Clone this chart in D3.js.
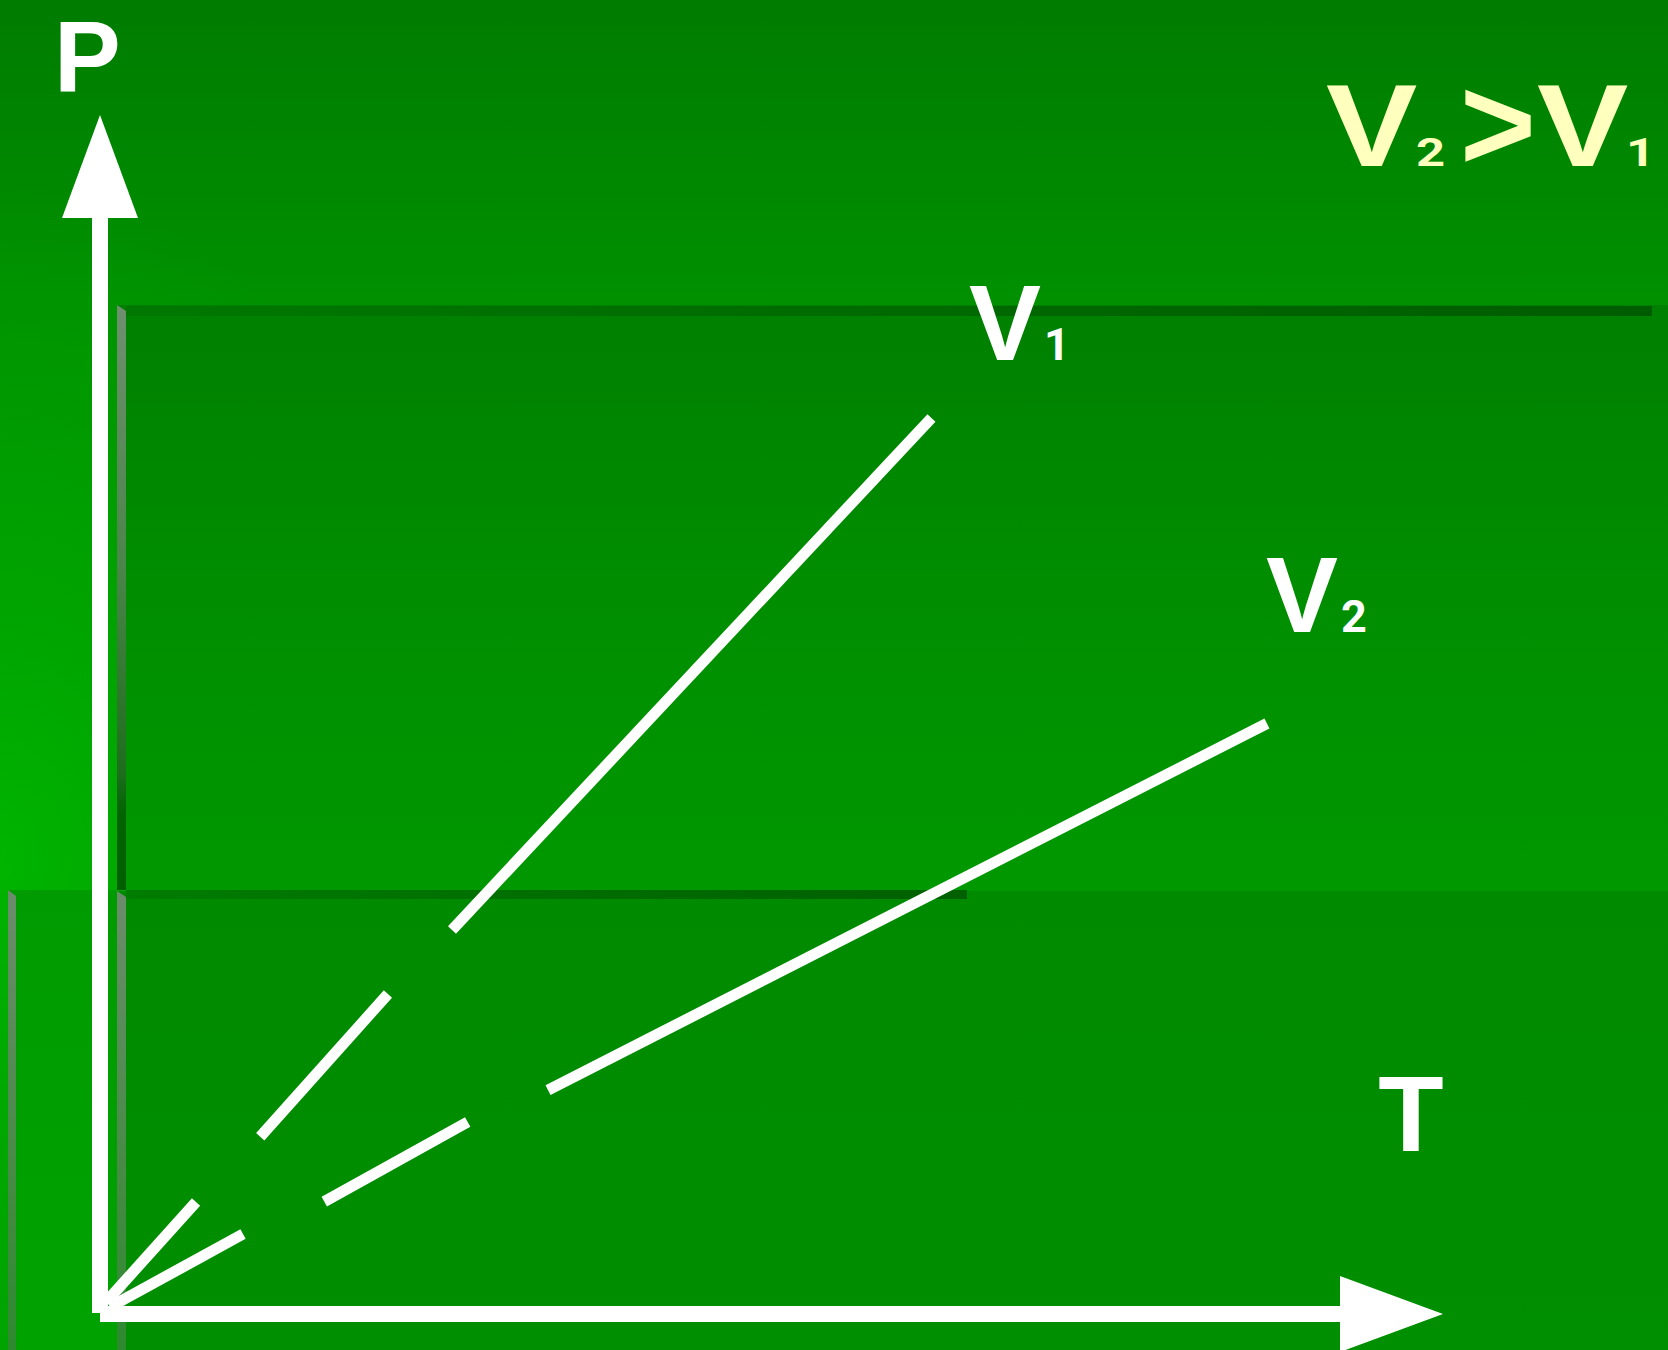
<!DOCTYPE html>
<html lang="en">
<head>
<meta charset="UTF-8" />
<title>P-T isochores</title>
<style>
  html, body { margin: 0; padding: 0; background: #008800; }
  svg { display: block; }
</style>
</head>
<body>
<div id="chart"></div>
<script src="https://d3js.org/d3.v7.min.js"></script>
<script>
// isochores drawn as broken lines: each segment is [[T, P], [T, P]]
var v1Segments = [
  [[0.45, 1.00], [7.15, 9.34]],
  [[11.93, 14.78], [21.44, 26.69]],
  [[26.21, 32.03], [61.91, 74.73]]
];
var v2Segments = [
  [[0.74, 0.58], [10.65, 6.67]],
  [[16.70, 9.37], [27.38, 16.01]],
  [[33.36, 18.68], [86.89, 49.25]]
];
var seriesNames = ["1", "2"];
// where the V labels sit, in [T, P]
var seriesLabelAt = [[64.7, 79.57], [86.82, 56.88]];
var axisNames = ["P", "T"];
var tDomain = [0, 100];
var pDomain = [0, 100];

var w = 1668;
var h = 1350;
var font = "'Liberation Sans', Arimo, Arial, Helvetica, sans-serif";
var digitFont = "Roboto, 'Liberation Sans', Arial, sans-serif";

var svg = d3.select("#chart")
            .append("svg")
            .attr("width", w)
            .attr("height", h)
            .attr("font-family", font)
            .attr("font-weight", "bold");

var defs = svg.append("defs");

function vGrad(id, stops, x1, y1, x2, y2) {
  var g = defs.append("linearGradient")
              .attr("id", id)
              .attr("gradientUnits", "userSpaceOnUse")
              .attr("x1", x1).attr("y1", y1)
              .attr("x2", x2).attr("y2", y2);
  stops.forEach(function(s) {
    g.append("stop").attr("offset", s[0]).attr("stop-color", s[1])
     .attr("stop-opacity", s[2] == null ? 1 : s[2]);
  });
}

vGrad("bg", [[0, "#007c00"], [0.22, "#009000"], [0.66, "#009a00"], [1, "#00a000"]], 0, 0, 0, h);
vGrad("boxA", [[0, "#008000"], [0.5, "#008e00"], [1, "#009800"]], 0, 305, 0, 890);
vGrad("boxB", [[0, "#008a00"], [1, "#008f00"]], 0, 890, 0, h);
vGrad("boxBleft", [[0, "#009b00"], [1, "#00a200"]], 0, 890, 0, h);
vGrad("bevelA", [[0, "#6f8f6f"], [0.45, "#4a854a"], [0.8, "#1d6e1d"], [0.87, "#006400"], [1, "#006000"]], 0, 305, 0, 890);
vGrad("bevelB", [[0, "#6c8c6c"], [1, "#2e8a2e"]], 0, 890, 0, h);
vGrad("bandA", [[0, "#007800"], [1, "#005c00"]], 126, 0, 1652, 0);
vGrad("bandB", [[0, "#007c00"], [1, "#006000"]], 126, 0, 967, 0);

var glow = defs.append("radialGradient")
               .attr("id", "glow")
               .attr("gradientUnits", "userSpaceOnUse")
               .attr("cx", 0).attr("cy", 0).attr("r", 1)
               .attr("gradientTransform", "translate(0,860) scale(480,680)");
glow.append("stop").attr("offset", 0).attr("stop-color", "#00c000").attr("stop-opacity", 0.7);
glow.append("stop").attr("offset", 0.35).attr("stop-color", "#00b400").attr("stop-opacity", 0.5);
glow.append("stop").attr("offset", 1).attr("stop-color", "#00b000").attr("stop-opacity", 0);

// slide background and template boxes
svg.append("rect").attr("width", w).attr("height", h).attr("fill", "url(#bg)");
svg.append("rect").attr("width", w).attr("height", h).attr("fill", "url(#glow)");

svg.append("rect").attr("x", 117).attr("y", 305).attr("width", w - 117).attr("height", 585).attr("fill", "url(#boxA)");
svg.append("rect").attr("x", 126).attr("y", 306).attr("width", 1652 - 126).attr("height", 10).attr("fill", "url(#bandA)");
svg.append("path").attr("d", "M117,305 L126,311 L126,890 L117,890 Z").attr("fill", "url(#bevelA)");

svg.append("rect").attr("x", 8).attr("y", 890).attr("width", 109).attr("height", h - 890).attr("fill", "url(#boxBleft)");
svg.append("rect").attr("x", 117).attr("y", 891).attr("width", w - 117).attr("height", h - 891).attr("fill", "url(#boxB)");
svg.append("rect").attr("x", 126).attr("y", 890).attr("width", 967 - 126).attr("height", 9).attr("fill", "url(#bandB)");
svg.append("path").attr("d", "M8,890 L16,896 L16," + h + " L8," + h + " Z").attr("fill", "url(#bevelB)");
svg.append("path").attr("d", "M117,891 L126,897 L126," + h + " L117," + h + " Z").attr("fill", "url(#bevelB)");

// scales
var xScale = d3.scaleLinear().domain(tDomain).range([100, 1443]);
var yScale = d3.scaleLinear().domain(pDomain).range([1314, 115]);

var head = 103, half = 38;

// axes with arrow heads
var x0 = xScale(0), y0 = yScale(0);
var yTop = yScale(pDomain[1]), xEnd = xScale(tDomain[1]);

svg.append("line")
   .attr("x1", x0).attr("y1", yTop + head)
   .attr("x2", x0).attr("y2", y0 - 1)
   .attr("stroke", "#fff").attr("stroke-width", 16);
svg.append("path")
   .attr("d", "M" + x0 + "," + yTop + " L" + (x0 + half) + "," + (yTop + head) +
              " L" + (x0 - half) + "," + (yTop + head) + " Z")
   .attr("fill", "#fff");

svg.append("line")
   .attr("x1", x0).attr("y1", y0)
   .attr("x2", xEnd - head).attr("y2", y0)
   .attr("stroke", "#fff").attr("stroke-width", 16);
svg.append("path")
   .attr("d", "M" + xEnd + "," + y0 + " L" + (xEnd - head) + "," + (y0 - half) +
              " L" + (xEnd - head) + "," + (y0 + half) + " Z")
   .attr("fill", "#fff");

// isochore segments
var line = d3.line().x(function(d) { return xScale(d[0]); })
                    .y(function(d) { return yScale(d[1]); });

svg.selectAll("path.iso")
   .data(v1Segments.concat(v2Segments))
   .enter()
   .append("path")
   .attr("class", "iso")
   .attr("d", line)
   .attr("fill", "none")
   .attr("stroke", "#fff")
   .attr("stroke-width", 11)
   .attr("stroke-linecap", "butt");

// V1 / V2 labels
seriesNames.forEach(function(n, i) {
  var t = svg.append("text")
             .attr("x", xScale(seriesLabelAt[i][0]))
             .attr("y", yScale(seriesLabelAt[i][1]))
             .attr("fill", "#fff")
             .attr("font-size", 108);
  t.append("tspan").text("V");
  t.append("tspan").attr("font-size", 45).attr("dx", 3)
   .attr("font-family", digitFont).text(n);
});

// axis names
svg.append("text").attr("x", 54).attr("y", 91)
   .attr("fill", "#fff").attr("font-size", 100).text(axisNames[0]);
svg.append("text").attr("x", 1411).attr("y", 1151).attr("text-anchor", "middle")
   .attr("fill", "#fff").attr("font-size", 107).text(axisNames[1]);

// V2 > V1 in the corner
var titleCol = "#ffffbe";
var titleParts = [
  { s: "V", size: 117, sx: 1.17, x: 1326, y: 166 },
  { s: seriesNames[1], size: 39, sx: 1.3, x: 1416, y: 166, digit: true },
  { s: ">", size: 134, sx: 0.97, x: 1460, y: 170 },
  { s: "V", size: 117, sx: 1.17, x: 1537, y: 166 },
  { s: seriesNames[0], size: 39, sx: 1.3, x: 1626, y: 166, digit: true }
];
titleParts.forEach(function(p) {
  svg.append("text")
     .attr("transform", "translate(" + p.x + "," + p.y + ") scale(" + p.sx + ",1)")
     .attr("fill", titleCol)
     .attr("font-size", p.size)
     .attr("font-family", p.digit ? digitFont : font)
     .text(p.s);
});
</script>
</body>
</html>
